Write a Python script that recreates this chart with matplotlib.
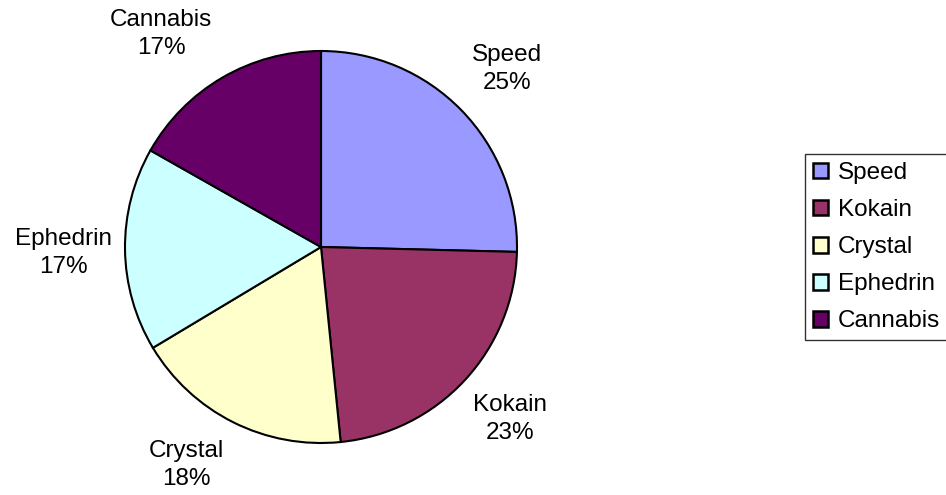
import numpy as np
import matplotlib.pyplot as plt

plt.rcParams["font.family"] = ["Liberation Sans", "DejaVu Sans"]

categories = ["Speed", "Kokain", "Crystal", "Ephedrin", "Cannabis"]
shares = [25.4, 23.0, 18.0, 16.8, 16.8]
colors = ["#9999FF", "#993366", "#FFFFCC", "#CCFFFF", "#660066"]

# label centres in units of the pie radius (layout only)
label_pos = [(0.949, 0.908), (0.964, -0.878), (-0.689, -1.112),
             (-1.316, -0.031), (-0.816, 1.087)]

W, H = 946, 495
fig = plt.figure(figsize=(W / 100, H / 100), dpi=100)

cx, cy, r = 321, 247, 196
ext = 1.4 * r
ax = fig.add_axes([(cx - ext) / W, (H - cy - ext) / H, 2 * ext / W, 2 * ext / H])

total = sum(shares)
labels = [f"{c}\n{v / total * 100:.0f}%" for c, v in zip(categories, shares)]

wedges, texts = ax.pie(
    shares, colors=colors, startangle=90, counterclock=False,
    labels=labels,
    wedgeprops=dict(edgecolor="black", linewidth=1.5),
    textprops=dict(fontsize=17.5, ha="center", va="center", linespacing=1.35),
)
for t, pos in zip(texts, label_pos):
    t.set_position(pos)
ax.set_xlim(-1.4, 1.4)
ax.set_ylim(-1.4, 1.4)
ax.set_aspect("equal")
ax.axis("off")

leg = fig.legend(
    wedges, categories, loc="upper left",
    bbox_to_anchor=(805 / W, 1 - 154 / H),
    frameon=True, fancybox=False, fontsize=17.5,
    handlelength=0.63, handleheight=0.63, handletextpad=0.4,
    labelspacing=0.62, borderpad=0.33, borderaxespad=0,
)
leg.get_frame().set_edgecolor("black")
leg.get_frame().set_linewidth(1.0)
for h in leg.legend_handles:
    h.set_edgecolor("black")
    h.set_linewidth(1.8)

fig.savefig("out.png", dpi=100)
